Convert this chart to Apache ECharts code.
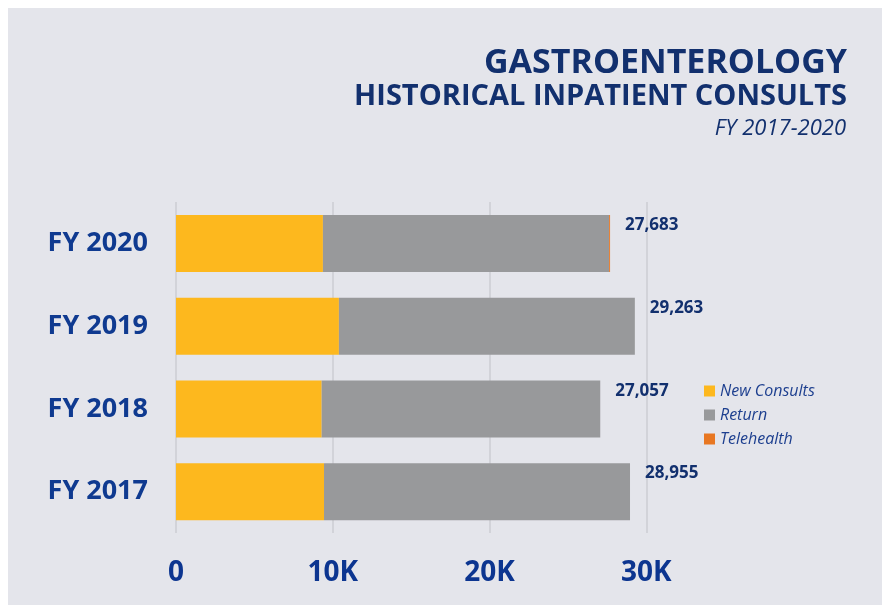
<!DOCTYPE html>
<html>
  <head>
    <meta charset="utf-8" />
    <script src="https://cdn.jsdelivr.net/npm/echarts@6.0.0/dist/echarts.min.js"></script>
    <style>
      body { margin: 0; background: #ffffff; }
      #panel { position: absolute; left: 8px; top: 8px; width: 874px; height: 597px; background: #e4e5eb; }
      #main { position: absolute; left: 0; top: 0; width: 885px; height: 606px; }
    </style>
  </head>
  <body>
    <div id="panel"></div>
    <div id="main"></div>

    <script type="text/javascript">
      // data
      var years = ["FY 2017", "FY 2018", "FY 2019", "FY 2020"];
      var newConsults = [9440, 9290, 10390, 9370];
      var returnVisits = [19515, 17767, 18873, 18253];
      var telehealth = [0, 0, 0, 60];
      var totals = [28955, 27057, 29263, 27683];
      var ticks = [0, 10000, 20000, 30000];

      var navy = "#12306e";
      var myChart = echarts.init(document.getElementById("main"));

      var option = {
        animation: false,
        title: [
          {
            text: "GASTROENTEROLOGY",
            right: 38, top: 46, padding: 0,
            textStyle: { fontFamily: "Open Sans", fontWeight: 700, fontSize: 34, color: navy }
          },
          {
            text: "HISTORICAL INPATIENT CONSULTS",
            right: 38, top: 82, padding: 0,
            textStyle: { fontFamily: "Open Sans", fontWeight: 700, fontSize: 29, color: navy }
          },
          {
            text: "FY 2017-2020",
            right: 39, top: 118, padding: 0,
            textStyle: { fontFamily: "Open Sans", fontStyle: "italic", fontWeight: 400, fontSize: 22, color: navy }
          }
        ],
        legend: {
          data: ["New Consults", "Return", "Telehealth"],
          orient: "vertical",
          left: 704, top: 383,
          padding: 0,
          itemWidth: 11, itemHeight: 11, itemGap: 8,
          icon: "rect",
          textStyle: { fontFamily: "Open Sans", fontStyle: "italic", fontSize: 16, lineHeight: 14, color: "#1d3f8f" }
        },
        grid: { left: 176, right: 238.6, top: 202, bottom: 73 },
        xAxis: {
          type: "value",
          min: ticks[0], max: ticks[ticks.length - 1], interval: ticks[1] - ticks[0],
          axisLine: { show: false },
          axisTick: { show: false },
          splitLine: { lineStyle: { color: "#d2d3d9", width: 2 } },
          axisLabel: {
            margin: 26,
            fontFamily: "Open Sans", fontWeight: 700, fontSize: 28, color: "#0c3590",
            formatter: function (v) { return v === 0 ? "0" : v / 1000 + "K"; }
          }
        },
        yAxis: {
          type: "category",
          data: years,
          axisLine: { show: false },
          axisTick: { show: false },
          axisLabel: { margin: 28, fontFamily: "Open Sans", fontWeight: 700, fontSize: 27, color: "#0f3a90" }
        },
        series: [
          {
            name: "New Consults", type: "bar", stack: "t", barWidth: 57,
            itemStyle: { color: "#fdb81e" }, data: newConsults
          },
          {
            name: "Return", type: "bar", stack: "t", barWidth: 57,
            itemStyle: { color: "#98999b" }, data: returnVisits
          },
          {
            name: "Telehealth", type: "bar", stack: "t", barWidth: 57,
            itemStyle: { color: "#e87722" }, data: telehealth
          },
          {
            name: "Total", type: "bar", barWidth: 57, barGap: "-100%", z: 1,
            itemStyle: { color: "rgba(0,0,0,0)" },
            label: {
              show: true, position: "right", distance: 15, offset: [0, -18],
              fontFamily: "Open Sans", fontWeight: 700, fontSize: 17, color: navy,
              formatter: function (p) { return p.value.toLocaleString("en-US"); }
            },
            data: totals
          }
        ]
      };

      myChart.setOption(option);
    </script>
  </body>
</html>
